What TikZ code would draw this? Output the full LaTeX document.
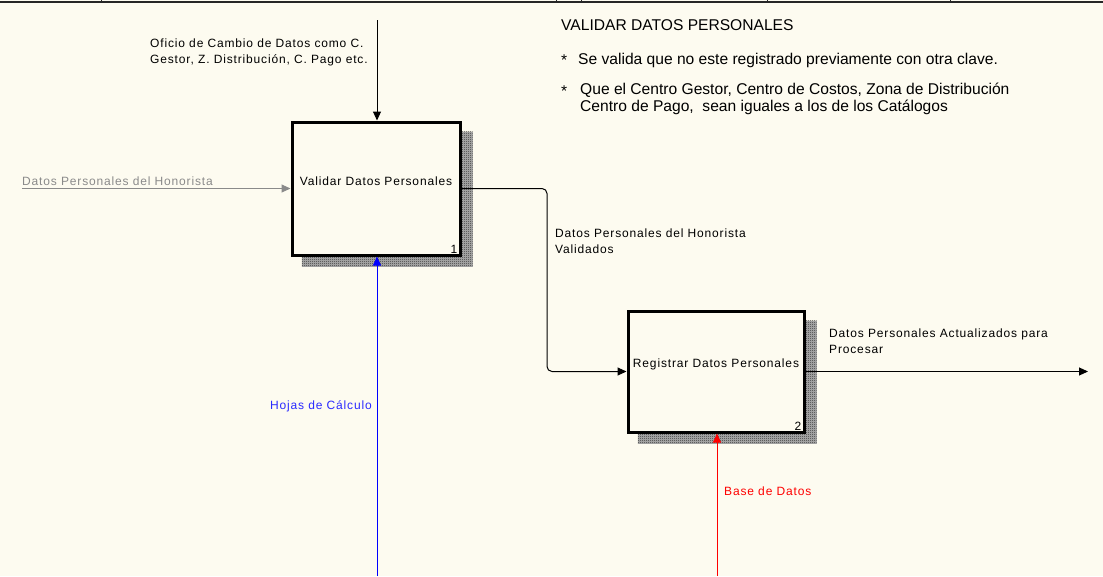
\documentclass[tikz,border=0pt]{standalone}
\usepackage{fontspec}
\setmainfont{Liberation Sans}
\newfontfamily\lblfont[LetterSpace=7]{Liberation Sans}
\usetikzlibrary{arrows.meta,patterns.meta,backgrounds}
\definecolor{paper}{HTML}{FDFBF0}
\definecolor{flowgray}{HTML}{8A8A8A}
\definecolor{mechblue}{HTML}{0000FF}
\definecolor{mechtext}{HTML}{2A2AFF}
\definecolor{mechred}{HTML}{FF0000}

% fine checker used for the drop shadows of the activity boxes
\tikzdeclarepattern{
  name=shadowhatch,
  type=uncolored,
  bounding box={(0,0) and (2pt,2pt)},
  tile size={(2pt,2pt)},
  code={\fill (0,0) rectangle (1pt,1pt); \fill (1pt,1pt) rectangle (2pt,2pt);}
}

\tikzset{
  lbl/.style={inner sep=0pt, font=\lblfont\fontsize{12}{16}\selectfont, align=left},
  note/.style={inner sep=0pt, font=\fontsize{15.6}{17}\selectfont, align=left},
  activity/.style={draw, line width=3pt, fill=paper, inner sep=0pt},
  flow/.style={line width=1pt, -{Triangle[length=9pt,width=8pt]}},
  boxshadow/.style={pattern=shadowhatch, pattern color=black},
  shadowtone/.style={fill=black!28},
}

\begin{document}
\begin{tikzpicture}[x=1pt,y=-1pt]
\useasboundingbox (0,0) rectangle (1103,576);

% activities
\node[activity, minimum width=168pt, minimum height=133pt] (b1) at (376,188.5) {};
\node[lbl, yshift=7pt] (b1name) at (b1.center) {Validar Datos Personales};
\node[lbl, anchor=south east] (b1num) at ([shift={(-4,-3)}]b1.south east) {1};

\node[activity, minimum width=176pt, minimum height=121pt] (b2) at (716,371.5) {};
\node[lbl, yshift=7pt] (b2name) at (b2.center) {Registrar Datos Personales};
\node[lbl, anchor=south east] (b2num) at ([shift={(-4,-3)}]b2.south east) {2};

\begin{scope}[on background layer]
  \fill[paper] (0,0) rectangle (1103,576);
  \foreach \bx in {b1,b2} {
    \fill[shadowtone] ([shift={(11,10)}]\bx.south west) rectangle ([shift={(11,11)}]\bx.north east);
    \fill[boxshadow] ([shift={(11,10)}]\bx.south west) rectangle ([shift={(11,11)}]\bx.north east);
  }
\end{scope}

% frame rule along the top edge
\draw[line width=2pt, black!85] (0,1.5) -- (1103,1.5);
\foreach \tx in {101,556,581,767,950} \draw[line width=1pt, black!85] (\tx,0) -- (\tx,2);

% control
\coordinate (ctl) at (377,20);
\draw[flow] (ctl) -- (ctl |- b1.north);
\node[lbl, anchor=north west] (ctllbl) at (150,39) {Oficio de Cambio de Datos como C.\\Gestor, Z. Distribución, C. Pago etc.};

% input
\coordinate (inp) at (22,188.5);
\draw[flow, flowgray] (inp) -- (b1.west);
\node[lbl, text=flowgray, anchor=west] (inplbl) at (22,181) {Datos Personales del Honorista};

% output of 1 into 2
\coordinate (bend) at (547,280);
\draw[flow, rounded corners=5pt] (b1.east) -| (bend) |- (b2.west);
\node[lbl, anchor=north west] (midlbl) at (555,229) {Datos Personales del Honorista\\Validados};

% final output
\coordinate (out) at (1088,371.5);
\draw[flow] (b2.east) -- (out);
\node[lbl, anchor=north west] (outlbl) at (829,329) {Datos Personales Actualizados para\\Procesar};

% mechanisms
\coordinate (mech1) at (377,576);
\draw[flow, mechblue] (mech1) -- (mech1 |- b1.south);
\node[lbl, text=mechtext, anchor=east] (mech1lbl) at (372,406) {Hojas de Cálculo};

\coordinate (mech2) at (717,576);
\draw[flow, mechred] (mech2) -- (mech2 |- b2.south);
\node[lbl, text=mechred, anchor=west] (mech2lbl) at (724,491) {Base de Datos};

% notes
\node[note, anchor=west] (title) at (561,25) {VALIDAR DATOS PERSONALES};
\node[note, anchor=west] (star1) at (561,60) {*};
\node[note, anchor=west] (note1) at (578,60) {Se valida que no este registrado previamente con otra clave.};
\node[note, anchor=west] (star2) at (561,91) {*};
\node[note, anchor=north west] (note2) at (580,83) {Que el Centro Gestor, Centro de Costos, Zona de Distribución\\Centro de Pago,\ \ sean iguales a los de los Catálogos};
\end{tikzpicture}
\end{document}
